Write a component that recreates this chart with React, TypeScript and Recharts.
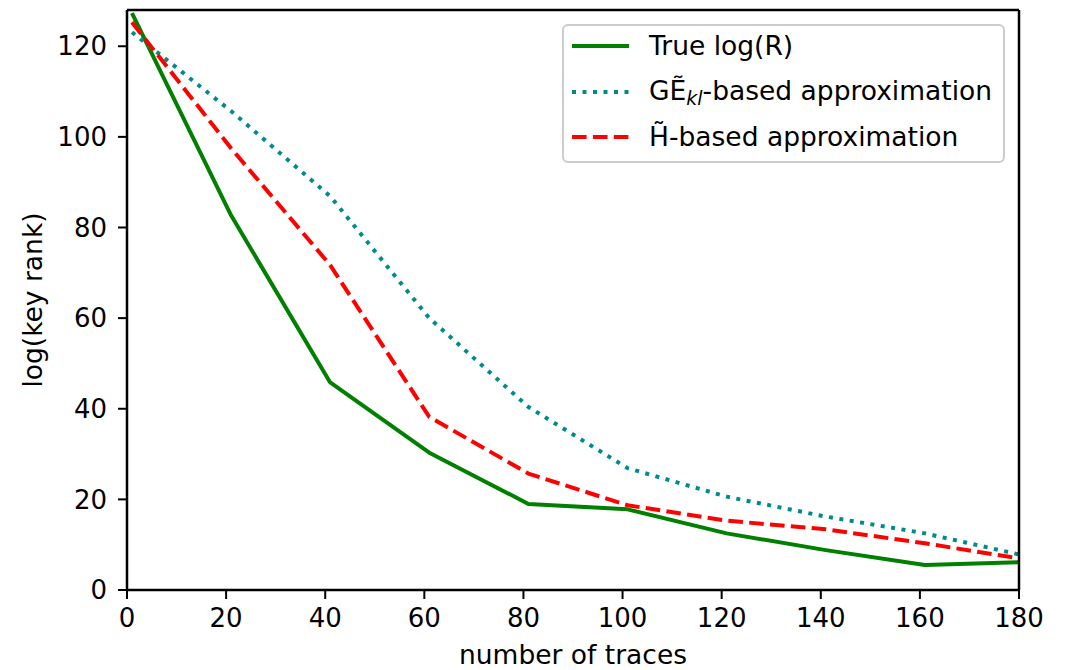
import { LineChart, Line, XAxis, YAxis, ReferenceLine, Legend } from 'recharts';

// number of traces (x) and the three curves
const traces = [1, 21, 41, 61, 81, 101, 121, 141, 161, 181];
const trueLogR = [127.3, 82.7, 45.8, 30.3, 19.0, 17.8, 12.5, 8.8, 5.5, 6.15];
const geApprox = [123.1, 105.7, 86.9, 60.0, 40.4, 26.9, 20.6, 16.2, 12.5, 7.6];
const hApprox = [125.3, 97.5, 71.7, 38.2, 25.7, 18.7, 15.3, 13.4, 10.3, 6.8];

const xTicks = [0, 20, 40, 60, 80, 100, 120, 140, 160, 180];
const yTicks = [0, 20, 40, 60, 80, 100, 120];

const FONT = '"DejaVu Sans", sans-serif';
const LW = 4;

const series = [
  { key: 'trueLogR', color: '#008000', dash: undefined as string | undefined, label: 'true' },
  { key: 'geApprox', color: '#008b8b', dash: '4 6.5', label: 'ge' },
  { key: 'hApprox', color: '#ff0000', dash: '14.6 6.3', label: 'h' },
];

const chartData = traces.map((x, i) => ({
  x,
  trueLogR: trueLogR[i],
  geApprox: geApprox[i],
  hApprox: hApprox[i],
}));

function legendLabel(name: string) {
  if (name === 'true') return <span>True log(R)</span>;
  if (name === 'ge')
    return (
      <span>
        G{'\u1EBC'}
        <span style={{ fontStyle: 'italic', fontSize: 19, position: 'relative', top: 5 }}>kl</span>
        -based approximation
      </span>
    );
  return <span>H{'\u0303'}-based approximation</span>;
}

function LegendBox() {
  return (
    <div
      style={{
        width: 443,
        height: 139,
        boxSizing: 'border-box',
        border: '2px solid #cccccc',
        borderRadius: 6,
        background: 'rgba(255,255,255,0.8)',
        fontFamily: FONT,
        fontSize: 26.5,
        color: '#000',
      }}
    >
      <div style={{ marginTop: -3 }}>
        {series.map((s) => (
          <div key={s.key} style={{ height: 45.8, display: 'flex', alignItems: 'center' }}>
            <svg width={57} height={10} style={{ marginLeft: 8, marginRight: 20, flex: 'none' }}>
              <line
                x1={0}
                x2={57}
                y1={5}
                y2={5}
                stroke={s.color}
                strokeWidth={LW}
                strokeDasharray={s.dash}
              />
            </svg>
            <div style={{ lineHeight: 1, whiteSpace: 'nowrap' }}>{legendLabel(s.label)}</div>
          </div>
        ))}
      </div>
    </div>
  );
}

export default function App() {
  const tickStyle = { fill: '#000', fontSize: 26, fontFamily: FONT };
  const axisStroke = { stroke: '#000', strokeWidth: 2.5 };
  return (
    <div style={{ position: 'absolute', left: 0, top: 0, width: 1066, height: 670, background: '#fff' }}>
      <LineChart width={1066} height={670} data={chartData} margin={{ top: 10, right: 47, left: 0, bottom: 0 }}>
        <XAxis
          dataKey="x"
          type="number"
          domain={[0, 180]}
          ticks={xTicks}
          allowDataOverflow
          height={80}
          tick={tickStyle}
          tickSize={9}
          tickMargin={10}
          axisLine={axisStroke}
          tickLine={{ stroke: '#000', strokeWidth: 2 }}
          label={{
            content: () => (
              <text x={573} y={664} textAnchor="middle" fontSize={26.5} fontFamily={FONT} fill="#000">
                number of traces
              </text>
            ),
          }}
        />
        <YAxis
          type="number"
          domain={[0, 128]}
          ticks={yTicks}
          allowDataOverflow
          width={127}
          tick={tickStyle}
          tickSize={9}
          tickMargin={11}
          axisLine={axisStroke}
          tickLine={{ stroke: '#000', strokeWidth: 2 }}
          label={{
            content: () => (
              <text
                x={42}
                y={300}
                transform="rotate(-90 42 300)"
                textAnchor="middle"
                fontSize={26.5}
                fontFamily={FONT}
                fill="#000"
              >
                log(key rank)
              </text>
            ),
          }}
        />
        {series.map((s) => (
          <Line
            key={s.key}
            type="linear"
            dataKey={s.key}
            stroke={s.color}
            strokeWidth={LW}
            strokeDasharray={s.dash}
            strokeLinejoin="round"
            dot={false}
            activeDot={false}
            isAnimationActive={false}
          />
        ))}
        <ReferenceLine y={128} stroke="#000" strokeWidth={2.5} />
        <ReferenceLine x={180} stroke="#000" strokeWidth={2.5} />
        <Legend
          layout="horizontal"
          verticalAlign="middle"
          align="center"
          content={() => <LegendBox />}
          wrapperStyle={{ left: 562, top: 24, width: 443, height: 139 }}
        />
      </LineChart>
    </div>
  );
}
